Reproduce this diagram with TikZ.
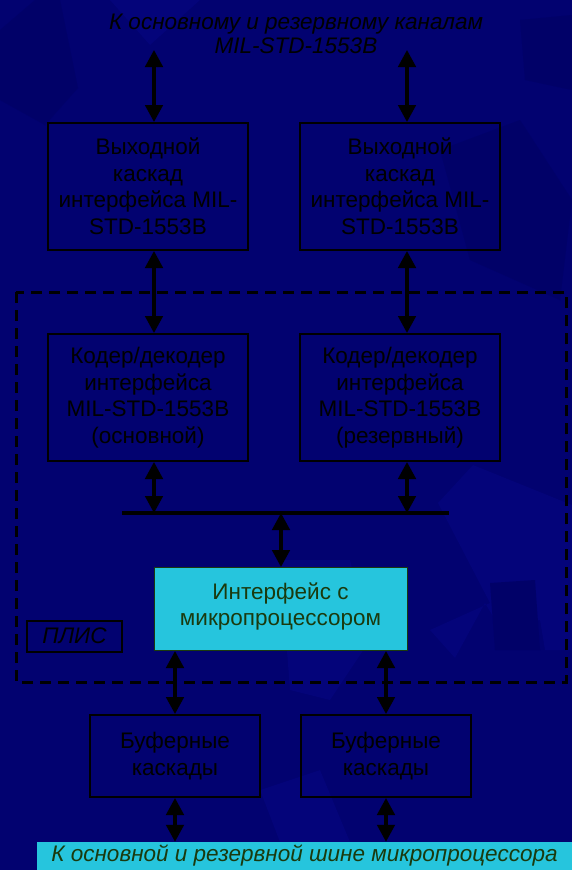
\documentclass[tikz,border=0pt]{standalone}
\usepackage{fontspec}
\setmainfont{Liberation Sans}
\usetikzlibrary{arrows.meta}
\definecolor{bg}{RGB}{2,2,112}
\definecolor{bglight}{RGB}{4,4,122}
\definecolor{bgdark}{RGB}{1,1,104}
\definecolor{cyanbox}{RGB}{38,197,221}
\definecolor{dgreen}{RGB}{26,58,14}
\tikzset{
  blk/.style={draw=black, line width=2pt, inner sep=0pt, align=center,
    font=\fontsize{22.5}{26.5}\selectfont, text=black},
  dbl/.style={line width=3.2pt, draw=black,
    {Triangle[length=17pt,width=17.5pt]}-{Triangle[length=17pt,width=17.5pt]}},
  bus/.style={line width=3.2pt, draw=black},
  frame/.style={line width=3pt, draw=black, dash pattern=on 11pt off 7pt},
}
\begin{document}
\begin{tikzpicture}[x=1pt,y=-1pt]
\useasboundingbox (0,0) rectangle (572,870);
% background
\fill[bg] (0,0) rectangle (572,870);
\fill[bgdark] (0,30) -- (35,0) -- (60,0) -- (78,88) -- (45,125) -- (0,100) -- cycle;
\fill[bglight] (110,0) -- (200,0) -- (150,45) -- cycle;
\fill[bgdark] (520,20) -- (572,15) -- (572,90) -- (525,80) -- cycle;
\fill[bglight] (473,465) -- (572,505) -- (572,650) -- (545,650) -- (540,620) -- (495,620) -- (485,603) -- (455,658) -- (430,630) -- (490,603) -- (438,503) -- cycle;
\fill[bgdark] (490,583) -- (535,580) -- (540,650) -- (495,650) -- cycle;
\fill[bglight] (280,560) -- (350,560) -- (370,640) -- (330,700) -- (290,690) -- cycle;
\fill[bglight] (260,790) -- (320,770) -- (350,842) -- (280,842) -- cycle;
\fill[bgdark] (440,150) -- (520,120) -- (572,200) -- (560,300) -- (470,260) -- cycle;

% top label
\node[font=\fontsize{22.5}{24.5}\selectfont\itshape, text=black, align=center] (toplbl) at (296,34)
  {К основному и резервному каналам\\MIL-STD-1553B};

% dashed FPGA frame
\draw[frame] (16,292) rectangle (566,682);

% boxes
\node[blk, minimum width=200pt, minimum height=127pt] (b1) at (148,186.5)
  {Выходной\\каскад\\интерфейса MIL-\\STD-1553B};
\node[blk, minimum width=200pt, minimum height=127pt] (b2) at (400,186.5)
  {Выходной\\каскад\\интерфейса MIL-\\STD-1553B};
\node[blk, minimum width=200pt, minimum height=127pt] (b3) at (148,397.5)
  {Кодер/декодер\\интерфейса\\MIL-STD-1553B\\(основной)};
\node[blk, minimum width=200pt, minimum height=127pt] (b4) at (400,397.5)
  {Кодер/декодер\\интерфейса\\MIL-STD-1553B\\(резервный)};
\node[blk, draw=dgreen, line width=1pt, fill=cyanbox, text=dgreen, font=\fontsize{22.5}{25.5}\selectfont,
  minimum width=253pt, minimum height=83pt] (mp) at (280.5,609) {};
\node[align=center, inner sep=0pt, text=dgreen, font=\fontsize{22.5}{25.5}\selectfont] (mptext) at (280.5,606.5)
  {Интерфейс с\\микропроцессором};
\node[blk, minimum width=95pt, minimum height=31pt, font=\fontsize{22.5}{24}\selectfont\itshape] (plis) at (74.5,636)
  {ПЛИС};
\node[blk, minimum width=170pt, minimum height=82pt] (buf1) at (175,756)
  {Буферные\\каскады};
\node[blk, minimum width=170pt, minimum height=82pt] (buf2) at (386,756)
  {Буферные\\каскады};
\node[fill=cyanbox, inner sep=0pt, minimum width=535pt, minimum height=28pt,
  font=\fontsize{22.5}{24}\selectfont\itshape, text=dgreen] (bot) at (304.5,856)
  {К основной и резервной шине микропроцессора};

% coordinates
\coordinate (t1) at (154,50);
\coordinate (t2) at (407,50);
\coordinate (busL) at (122,513);
\coordinate (busR) at (449,513);
\coordinate (busM) at (281,513);

% bus
\draw[bus] (busL) -- (busR);

% connectors
\draw[dbl] (t1) -- (t1 |- b1.north);
\draw[dbl] (t2) -- (t2 |- b2.north);
\draw[dbl] (t1 |- b1.south) -- (t1 |- b3.north);
\draw[dbl] (t2 |- b2.south) -- (t2 |- b4.north);
\draw[dbl] (t1 |- b3.south) -- (t1 |- busL);
\draw[dbl] (t2 |- b4.south) -- (t2 |- busL);
\draw[dbl] (busM) -- (busM |- mp.north);
\draw[dbl] (buf1.north |- mp.south) -- (buf1.north);
\draw[dbl] (buf2.north |- mp.south) -- (buf2.north);
\draw[dbl] (buf1.south) -- (buf1.south |- bot.north);
\draw[dbl] (buf2.south) -- (buf2.south |- bot.north);
\end{tikzpicture}
\end{document}
